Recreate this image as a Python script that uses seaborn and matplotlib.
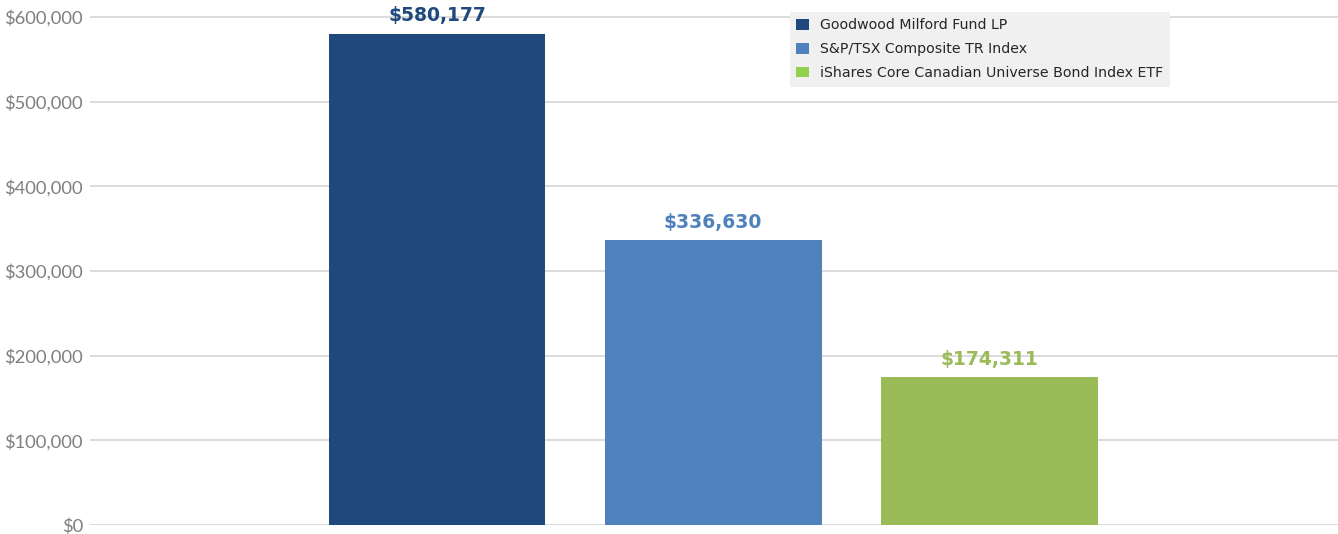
import pandas as pd
import matplotlib.pyplot as plt
import seaborn as sns
from matplotlib.patches import Patch
from matplotlib.ticker import FuncFormatter

# Values of a hypothetical investment at the end of the period
series = ['Goodwood Milford Fund LP', 'S&P/TSX Composite TR Index',
          'iShares Core Canadian Universe Bond Index ETF']
values = [580177, 336630, 174311]
bar_colors = ['#1f497d', '#4f81bd', '#9bbb59']
label_colors = ['#1f497d', '#4f81bd', '#9bbb59']
legend_colors = ['#1f497d', '#4f81bd', '#92d050']

df = pd.DataFrame({'series': series, 'value': values})

sns.set_style('white')
plt.rcParams['font.family'] = ['DejaVu Sans']

fig = plt.figure(figsize=(13.38, 5.34), dpi=100)
ax = fig.add_axes([90 / 1338, 9 / 534, 1 - 90 / 1338, (525 - 9) / 534])

sns.barplot(data=df, x='series', y='value', hue='series',
            palette=bar_colors, width=0.786, legend=False, ax=ax,
            saturation=1, linewidth=0, zorder=3)

ax.set_xlim(-1.257, 3.264)
ax.set_ylim(0, 600000 * (525 - 9) / (525 - 17))
ax.set_yticks(range(0, 600001, 100000))
ax.yaxis.set_major_formatter(FuncFormatter(lambda v, _: f'${v:,.0f}'))
ax.set_xticks([])
ax.set_xlabel('')
ax.set_ylabel('')
ax.grid(axis='y', color='#d9d9d9', linewidth=1.3, zorder=0)
for s in ax.spines.values():
    s.set_visible(False)
ax.tick_params(axis='y', length=0, pad=5, labelsize=13.2, labelcolor='#7f7f7f')
for t in ax.get_yticklabels():
    t.set_family('Lato')

# value labels above the bars
for i, (v, c) in enumerate(zip(values, label_colors)):
    ax.annotate(f'${v:,}', (i, v), xytext=(0, 6), textcoords='offset points',
                ha='center', va='bottom', fontsize=13.5, fontweight='bold',
                color=c)

handles = [Patch(facecolor=c, edgecolor='none') for c in legend_colors]
leg = fig.legend(handles, series, loc='upper left',
                 bbox_to_anchor=(790 / 1338, 1 - 12 / 534),
                 frameon=True, fancybox=False, fontsize=10.2,
                 handlelength=0.9, handleheight=0.75, handletextpad=0.8,
                 labelspacing=0.7, borderpad=0.45, borderaxespad=0)
leg.get_frame().set_facecolor('#f0f0f0')
leg.get_frame().set_edgecolor('none')
leg.get_frame().set_alpha(1)
leg.set_zorder(5)

fig.savefig('out.png', dpi=100)
